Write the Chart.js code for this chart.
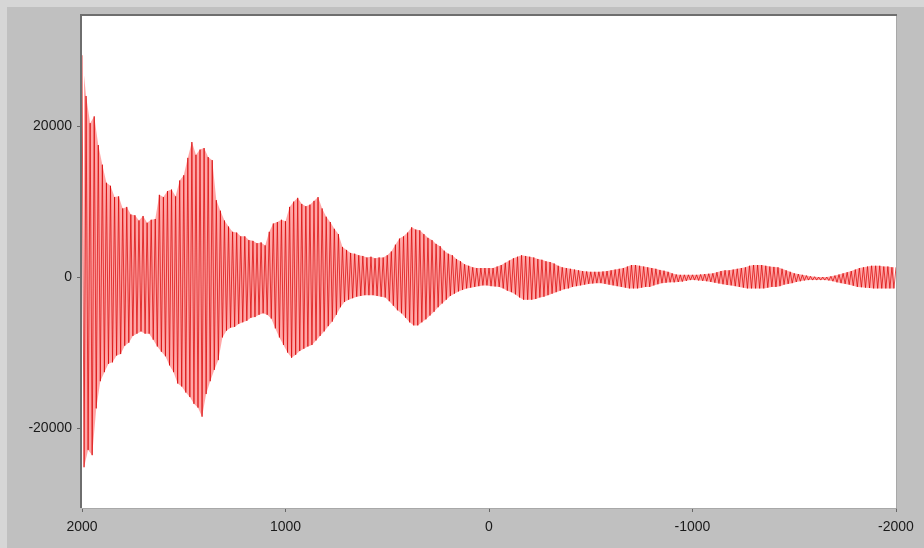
<!DOCTYPE html>
<html>
<head>
<meta charset="utf-8">
<script src="https://cdn.jsdelivr.net/npm/chart.js@4"></script>
<style>
  html, body { margin: 0; padding: 0; background: #c0c0c0; }
  #wrap { position: relative; width: 924px; height: 548px; overflow: hidden; }
  .edge { position: absolute; background: #d6d6d6; }
  #chart { position: absolute; left: 0; top: 0; }
</style>
</head>
<body>
<div id="wrap">
  <div class="edge" style="left:0;top:0;width:924px;height:7px"></div>
  <div class="edge" style="left:0;top:0;width:7px;height:548px"></div>
  <canvas id="chart" width="924" height="548"></canvas>
</div>
<script>
// signal, sampled every 10 units from 2000 down to -2000; peaks and troughs alternate
const xStart = 2000;
const xStep = 10;

const peaks = [
  29400, 24000, 20400, 21300, 17500, 14900, 12500, 12100, 10600, 10700,
  9100, 9300, 8300, 8200, 7500, 8100, 7200, 7600, 7700, 10900,
  10600, 11400, 11600, 10700, 12800, 13500, 15800, 17900, 16200, 16900,
  17100, 15900, 15500, 10200, 8800, 7500, 6700, 6000, 5900, 5400,
  5400, 4900, 4800, 4500, 4600, 4200, 6000, 7100, 7300, 7600,
  7400, 9300, 10000, 10500, 9700, 9400, 9600, 10100, 10600, 9100,
  8000, 7300, 6400, 5700, 4000, 3600, 3200, 3100, 2900, 2800,
  2600, 2700, 2500, 2600, 2600, 2900, 3400, 4300, 5100, 5400,
  5900, 6600, 6300, 6200, 5700, 5200, 4900, 4400, 4100, 3500,
  3100, 2900, 2400, 2100, 1700, 1500, 1300, 1200, 1200, 1200,
  1200, 1200, 1400, 1600, 1900, 2200, 2500, 2700, 2900, 2800,
  2700, 2600, 2400, 2300, 2100, 2000, 1800, 1500, 1300, 1200,
  1100, 1000, 900, 800, 750, 700, 700, 700, 750, 800,
  900, 1000, 1100, 1200, 1400, 1600, 1600, 1500, 1400, 1300,
  1200, 1100, 950, 850, 700, 500, 350, 300, 300, 300,
  300, 300, 350, 400, 450, 500, 650, 800, 900, 900,
  1000, 1100, 1200, 1300, 1500, 1600, 1600, 1600, 1500, 1400,
  1350, 1300, 1100, 900, 700, 500, 400, 300, 200, 100,
  50, 0, 0, 0, 100, 200, 350, 500, 650, 800,
  1000, 1200, 1300, 1400, 1500, 1500, 1500, 1400, 1400, 1300,
  1300
];

const troughs = [
  -25200, -22900, -23600, -17400, -13800, -12600, -11500, -11300, -10400, -10200,
  -9100, -8700, -7800, -7500, -7200, -7500, -7500, -8300, -9200, -9900,
  -10500, -11700, -12600, -14100, -14500, -15300, -15900, -16800, -17300, -18500,
  -15500, -13800, -12300, -11000, -8000, -7100, -6700, -6600, -6200, -6000,
  -5800, -5400, -5300, -5000, -4800, -5000, -5500, -6800, -8000, -9000,
  -10000, -10700, -10300, -9800, -9500, -9200, -9000, -8400, -7800, -7200,
  -6500, -5900, -5000, -4000, -3300, -3000, -2800, -2600, -2500, -2400,
  -2400, -2400, -2500, -2600, -2700, -3200, -3800, -4400, -4800, -5400,
  -6000, -6400, -6400, -6000, -5600, -5100, -4600, -4000, -3500, -3000,
  -2500, -2200, -1900, -1700, -1500, -1400, -1300, -1200, -1100, -1100,
  -1200, -1250, -1300, -1500, -1800, -2000, -2300, -2700, -3000, -3000,
  -3000, -2900, -2700, -2600, -2400, -2200, -2000, -1800, -1600, -1500,
  -1300, -1200, -1100, -1000, -900, -850, -800, -800, -900, -1000,
  -1100, -1200, -1300, -1400, -1500, -1500, -1500, -1400, -1300, -1300,
  -1100, -950, -800, -750, -700, -700, -650, -600, -500, -400,
  -400, -450, -500, -550, -650, -750, -850, -950, -1050, -1100,
  -1200, -1300, -1400, -1500, -1500, -1500, -1500, -1500, -1400, -1300,
  -1300, -1200, -1000, -900, -800, -650, -550, -450, -400, -400,
  -400, -400, -400, -450, -550, -700, -800, -900, -1000, -1150,
  -1300, -1350, -1400, -1450, -1500, -1500, -1500, -1500, -1500, -1500
];

const xTicks = [2000, 1000, 0, -1000, -2000];
const yTicks = [-20000, 0, 20000];

const points = [];
for (let i = 0; i < peaks.length + troughs.length; i++) {
  const y = i % 2 === 0 ? peaks[i / 2] : troughs[(i - 1) / 2];
  if (y === undefined) continue;
  points.push({ x: xStart - i * xStep, y: y });
}
// envelopes, only used for the pale band behind the trace
const upper = peaks.map((v, k) => ({ x: xStart - 2 * k * xStep, y: v }));
const lower = troughs.map((v, k) => ({ x: xStart - (2 * k + 1) * xStep, y: v }));

// sunken frame round the plot
const framePlugin = {
  id: 'frame',
  afterDraw(chart) {
    const { ctx, chartArea: a } = chart;
    ctx.save();
    ctx.lineWidth = 2;
    ctx.strokeStyle = '#6e6e6e';
    ctx.beginPath();
    ctx.moveTo(a.left - 1, a.bottom);
    ctx.lineTo(a.left - 1, a.top - 1);
    ctx.lineTo(a.right + 1, a.top - 1);
    ctx.stroke();
    ctx.lineWidth = 1;
    ctx.strokeStyle = '#a8a8a8';
    ctx.beginPath();
    ctx.moveTo(a.left, a.bottom + 0.5);
    ctx.lineTo(a.right + 0.5, a.bottom + 0.5);
    ctx.lineTo(a.right + 0.5, a.top);
    ctx.stroke();
    ctx.restore();
  },
};

const whiteArea = {
  id: 'whiteArea',
  beforeDatasetsDraw(chart) {
    const { ctx, chartArea: a } = chart;
    ctx.save();
    ctx.fillStyle = '#ffffff';
    ctx.fillRect(a.left, a.top, a.right - a.left, a.bottom - a.top);
    ctx.restore();
  },
};

const tickFont = { family: 'Liberation Sans, Arial, sans-serif', size: 14 };

new Chart(document.getElementById('chart'), {
  type: 'line',
  data: {
    datasets: [
      {
        data: points,
        borderColor: 'rgba(215, 0, 0, 0.7)',
        borderWidth: 1,
        pointRadius: 0,
        tension: 0,
        fill: false,
        order: 0,
      },
      {
        data: lower,
        borderWidth: 0,
        borderColor: 'rgba(0,0,0,0)',
        pointRadius: 0,
        tension: 0,
        fill: false,
        order: 2,
      },
      {
        data: upper,
        borderWidth: 0,
        borderColor: 'rgba(0,0,0,0)',
        backgroundColor: 'rgba(255, 130, 130, 0.7)',
        pointRadius: 0,
        tension: 0,
        fill: 1,
        order: 1,
      },
    ],
  },
  options: {
    responsive: false,
    animation: false,
    events: [],
    layout: { padding: { left: 0, top: 16, right: 28, bottom: 0 } },
    plugins: { legend: { display: false }, tooltip: { enabled: false } },
    scales: {
      x: {
        type: 'linear',
        reverse: true,
        min: -2000,
        max: 2000,
        afterBuildTicks: (axis) => { axis.ticks = xTicks.map(v => ({ value: v })); },
        afterFit: (axis) => { axis.height = 40; },
        ticks: {
          color: '#1a1a1a',
          font: tickFont,
          padding: 7,
          maxRotation: 0,
          autoSkip: false,
          callback: (v) => String(v),
        },
        grid: { drawOnChartArea: false, drawTicks: true, tickLength: 4, color: '#666' },
        border: { display: false },
      },
      y: {
        min: -30600,
        max: 34600,
        afterBuildTicks: (axis) => { axis.ticks = yTicks.map(v => ({ value: v })); },
        afterFit: (axis) => { axis.width = 82; },
        ticks: {
          color: '#1a1a1a',
          font: tickFont,
          padding: 5,
          callback: (v) => String(v),
        },
        grid: { drawOnChartArea: false, drawTicks: true, tickLength: 5, color: '#666' },
        border: { display: false },
      },
    },
  },
  plugins: [whiteArea, framePlugin],
});
</script>
</body>
</html>
